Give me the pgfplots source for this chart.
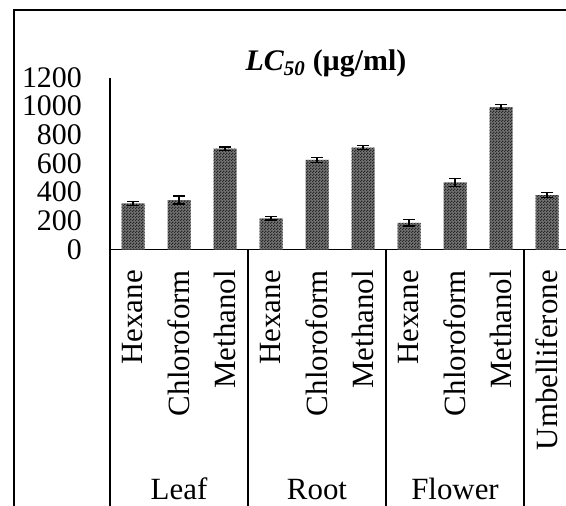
\documentclass[border=0pt]{standalone}
\usepackage{pgfplots}
\pgfplotsset{compat=1.18}
\usepackage{fontspec}
\setmainfont{Liberation Serif}
\usetikzlibrary{patterns}
\pgfdeclarepatternformonly{mychecker}{\pgfpointorigin}{\pgfqpoint{3bp}{3bp}}{\pgfqpoint{3bp}{3bp}}{%
  \pgfpathrectangle{\pgfpointorigin}{\pgfqpoint{1.5bp}{1.5bp}}%
  \pgfpathrectangle{\pgfqpoint{1.5bp}{1.5bp}}{\pgfqpoint{1.5bp}{1.5bp}}%
  \pgfusepath{fill}}
\begin{document}
\begin{tikzpicture}
\useasboundingbox (0bp,0bp) rectangle (566bp,-506bp);
\draw[line width=1.3bp] (14bp,-510bp) -- (14bp,-10bp) -- (570bp,-10bp);
\begin{axis}[
  at={(110bp,-249.5bp)}, anchor=south west,
  scale only axis, width=456bp, height=172bp,
  xmin=-0.5, xmax=9.413, ymin=0, ymax=1200,
  axis x line*=bottom, axis y line*=left,
  axis line style={line width=1.3bp, black},
  xtick={0,...,9}, ytick={0,200,...,1200},
  xticklabels={Hexane,Chloroform,Methanol,Hexane,Chloroform,Methanol,Hexane,Chloroform,Methanol,Umbelliferone},
  major tick length=0pt,
  scaled y ticks=false,
  /pgf/number format/1000 sep={},
  /pgf/number format/assume math mode=true,
  x tick label style={rotate=90, anchor=east, inner xsep=20.5bp, inner ysep=0pt, font=\fontsize{31}{31}\selectfont},
  y tick label style={anchor=east, inner sep=0pt, xshift=-28bp, font=\fontsize{30}{30}\selectfont},
  ybar, bar width=23bp,
  clip=false,
]
\addplot[fill=black!55, draw=none,
  postaction={pattern=mychecker, pattern color=black!85},
  error bars/.cd, y dir=both, y explicit,
  error bar style={line width=1.3bp, black},
  error mark options={rotate=90, mark size=6bp, line width=1.3bp, black}]
coordinates {
 (0,322) +- (0,14)
 (1,345) +- (0,28)
 (2,703) +- (0,12)
 (3,218) +- (0,12)
 (4,625) +- (0,16)
 (5,710) +- (0,14)
 (6,185) +- (0,22)
 (7,469) +- (0,27)
 (8,994) +- (0,17)
 (9,380) +- (0,16)
};
\draw[line width=1.3bp] (axis cs:-0.5,0) -- ++(0bp,-260bp);
\draw[line width=1.3bp] (axis cs:2.5,0) -- ++(0bp,-260bp);
\draw[line width=1.3bp] (axis cs:5.5,0) -- ++(0bp,-260bp);
\draw[line width=1.3bp] (axis cs:8.5,0) -- ++(0bp,-260bp);
\node[anchor=base, inner sep=0pt, font=\fontsize{31}{31}\selectfont] at ([yshift=-249.5bp]axis cs:1,0) {Leaf};
\node[anchor=base, inner sep=0pt, font=\fontsize{31}{31}\selectfont] at ([yshift=-249.5bp]axis cs:4,0) {Root};
\node[anchor=base, inner sep=0pt, font=\fontsize{31}{31}\selectfont] at ([yshift=-249.5bp]axis cs:7,0) {Flower};
\end{axis}
\node[anchor=base, font=\bfseries\fontsize{30}{30}\selectfont] at (326bp,-70bp) {\textit{LC\textsubscript{50}} (µg/ml)};
\end{tikzpicture}
\end{document}
